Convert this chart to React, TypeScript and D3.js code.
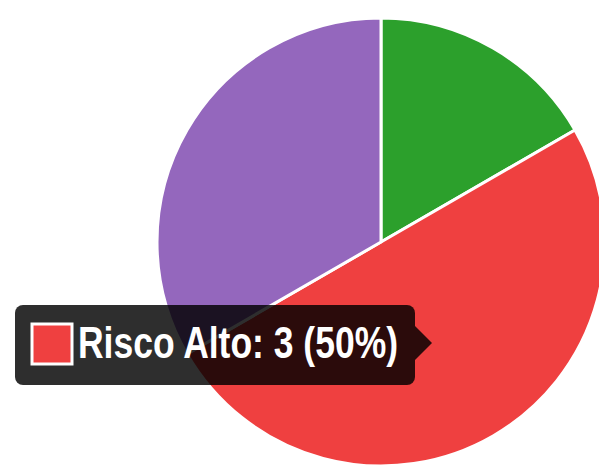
import React, { useEffect, useRef } from 'react';
import * as d3 from 'd3';

// Risk distribution
const labels = ['Risco Baixo', 'Risco Alto', 'Risco Médio'];
const values = [1, 3, 2];
const colors = ['#2ca02c', '#ef4040', '#9467bd'];
const activeIndex = 1; // slice under the tooltip

const W = 599;
const H = 470;

const App: React.FC = () => {
  const svgRef = useRef<SVGSVGElement>(null);

  useEffect(() => {
    if (!svgRef.current) return;
    const svg = d3.select(svgRef.current);
    svg.selectAll('*').remove();

    const cx = 381;
    const cy = 242;
    const radius = 224;

    const pie = d3.pie<number>().sort(null).value(d => d);
    const arcs = pie(values);
    const arc = d3.arc<d3.PieArcDatum<number>>().innerRadius(0).outerRadius(radius);

    const g = svg.append('g').attr('transform', `translate(${cx},${cy})`);
    g.selectAll('path.slice')
      .data(arcs)
      .enter()
      .append('path')
      .attr('class', 'slice')
      .attr('d', arc)
      .attr('fill', (_, i) => colors[i])
      .attr('stroke', '#fff')
      .attr('stroke-width', 3);

    // --- TOOLTIP ---
    const total = d3.sum(values);
    const pct = Math.round((values[activeIndex] / total) * 100);
    const text = `${labels[activeIndex]}: ${values[activeIndex]} (${pct}%)`;

    const box = { x: 15, y: 305, w: 400, h: 80 };
    const caret = 17;
    const midY = box.y + box.h / 2 - 2;

    const tip = svg.append('g');
    tip.append('rect')
      .attr('x', box.x).attr('y', box.y)
      .attr('width', box.w).attr('height', box.h)
      .attr('rx', 8)
      .attr('fill', 'rgba(0,0,0,0.82)');
    tip.append('path')
      .attr('d', `M${box.x + box.w},${midY - caret} L${box.x + box.w + caret},${midY} L${box.x + box.w},${midY + caret} Z`)
      .attr('fill', 'rgba(0,0,0,0.82)');

    tip.append('rect')
      .attr('x', 32).attr('y', 324)
      .attr('width', 40).attr('height', 40)
      .attr('fill', colors[activeIndex])
      .attr('stroke', '#fff')
      .attr('stroke-width', 3);

    tip.append('text')
      .attr('x', 78)
      .attr('y', 358)
      .attr('fill', '#fff')
      .attr('font-family', '"Liberation Sans", Arial, sans-serif')
      .attr('font-weight', 'bold')
      .attr('font-size', 44)
      .attr('textLength', 320)
      .attr('lengthAdjust', 'spacingAndGlyphs')
      .text(text);
  }, []);

  return (
    <div style={{ position: 'fixed', left: 0, top: 0, width: W, height: H, background: '#fff' }}>
      <svg ref={svgRef} width={W} height={H} style={{ display: 'block' }} />
    </div>
  );
};

export default App;
